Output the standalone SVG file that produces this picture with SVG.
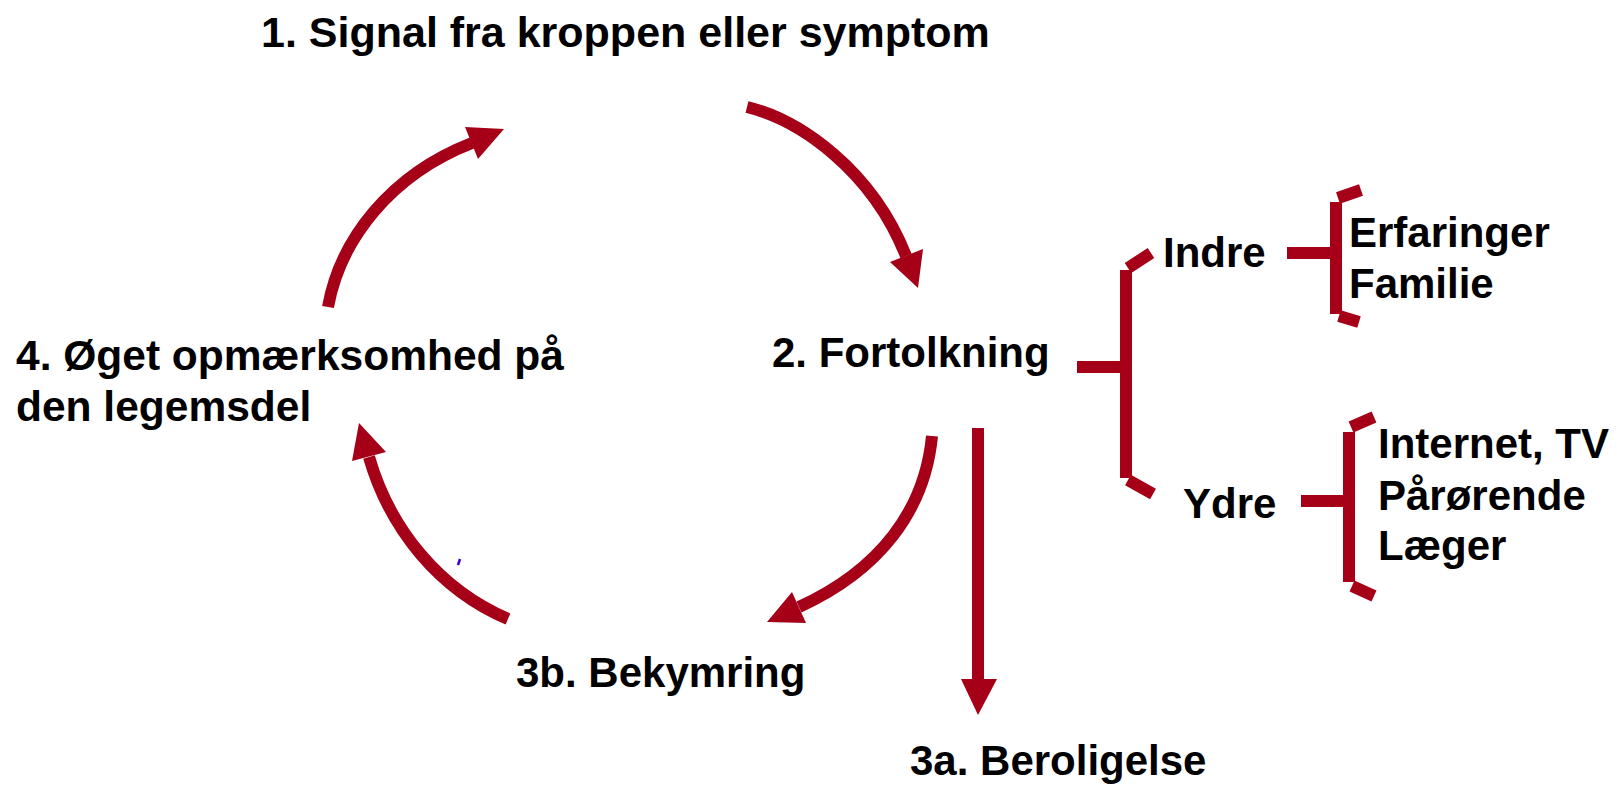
<svg xmlns="http://www.w3.org/2000/svg" width="1623" height="786" viewBox="0 0 1623 786">
<style>
text{font-family:"Liberation Sans",Arial,sans-serif;font-weight:bold;font-size:42px;fill:#000}
.arc{fill:none;stroke:#A50018;stroke-width:12}
.br{fill:none;stroke:#A50018;stroke-width:12;stroke-linecap:butt}
.hd{fill:#A50018;stroke:none}
</style>
<rect width="1623" height="786" fill="#fff"/>
<g id="connectors">
<path class="arc" d="M747,107 C800,120 872,170 906,256"/>
<polygon class="hd" points="890,262 923,249 918,288"/>
<path class="arc" d="M328,307 C340,240 390,175 472,143"/>
<polygon class="hd" points="465,127 478,159 504,129"/>
<path class="arc" d="M932,436 C925,510 880,570 799,607"/>
<polygon class="hd" points="792,592 806,623 767,622"/>
<path class="arc" d="M508,619 C440,590 390,530 369,457"/>
<polygon class="hd" points="352,461 386,452 359,423"/>
<line class="br" x1="978" y1="428" x2="978" y2="680"/>
<polygon class="hd" points="961,679 997,679 978,715"/>
<g id="bracket-fortolkning">
<line class="br" x1="1077" y1="367" x2="1126" y2="367"/>
<line class="br" x1="1126" y1="270" x2="1126" y2="478"/>
<line class="br" x1="1128" y1="268" x2="1151" y2="253"/>
<line class="br" x1="1128" y1="480" x2="1153" y2="494"/>
</g>
<g id="bracket-indre">
<line class="br" x1="1287" y1="253" x2="1336" y2="253"/>
<line class="br" x1="1336" y1="202" x2="1336" y2="314"/>
<line class="br" x1="1338" y1="198" x2="1361" y2="190"/>
<line class="br" x1="1339" y1="316" x2="1359" y2="322"/>
</g>
<g id="bracket-ydre">
<line class="br" x1="1301" y1="501" x2="1349" y2="501"/>
<line class="br" x1="1349" y1="432" x2="1349" y2="582"/>
<line class="br" x1="1351" y1="427" x2="1374" y2="417"/>
<line class="br" x1="1352" y1="586" x2="1374" y2="596"/>
</g>
<line x1="460" y1="559" x2="458" y2="565" stroke="#3A00C8" stroke-width="2.5"/>
</g>
<g id="n1"><text x="261" y="47" style="font-size:43px">1. Signal fra kroppen eller symptom</text></g>
<g id="n2"><text x="772" y="367">2. Fortolkning</text></g>
<g id="n3a"><text x="910" y="775">3a. Beroligelse</text></g>
<g id="n3b"><text x="516" y="687">3b. Bekymring</text></g>
<g id="n4" style="font-size:42.5px"><text x="16" y="370" style="font-size:42.5px">4. Øget opmærksomhed på</text><text x="16" y="421" style="font-size:42.5px">den legemsdel</text></g>
<g id="indre"><text x="1163" y="267">Indre</text></g>
<g id="ydre"><text x="1183" y="518">Ydre</text></g>
<g id="indre-list"><text x="1349" y="247">Erfaringer</text><text x="1349" y="298">Familie</text></g>
<g id="ydre-list"><text x="1378" y="458">Internet, TV</text><text x="1378" y="510">Pårørende</text><text x="1378" y="560">Læger</text></g>
</svg>
